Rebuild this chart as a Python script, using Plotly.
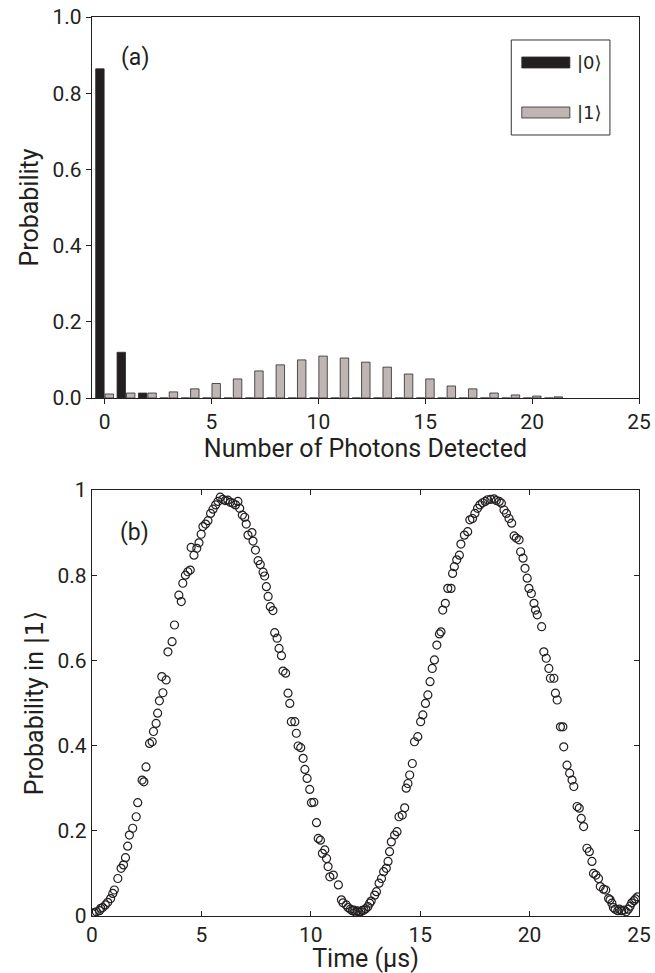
import plotly.graph_objects as go

# ---------------- data: panel (a) ----------------
photons = list(range(0, 22))
p_ket0 = [0.864, 0.120, 0.013] + [0.0] * 19
p_ket1 = [0.0105, 0.013, 0.013, 0.016, 0.024, 0.038, 0.050, 0.071, 0.087, 0.100,
          0.110, 0.105, 0.094, 0.081, 0.063, 0.050, 0.0315, 0.024, 0.013, 0.008,
          0.005, 0.003]

# ---------------- data: panel (b) ----------------
time_us = [0.01, 0.10, 0.20, 0.34, 0.40, 0.49, 0.61, 0.72, 0.85, 0.95, 1.02, 1.18, 1.33, 1.44,
           1.53, 1.63, 1.71, 1.86, 2.02, 2.09, 2.29, 2.37, 2.47, 2.63, 2.75, 2.81, 2.93, 3.00,
           3.08, 3.19, 3.24, 3.39, 3.47, 3.66, 3.77, 3.97, 4.08, 4.15, 4.27, 4.38, 4.49, 4.53,
           4.66, 4.79, 4.89, 4.99, 5.07, 5.19, 5.30, 5.42, 5.53, 5.65, 5.76, 5.86, 5.98, 6.09,
           6.21, 6.32, 6.44, 6.56, 6.67, 6.75, 6.87, 6.98, 7.05, 7.13, 7.31, 7.36, 7.47, 7.59,
           7.69, 7.82, 7.89, 7.97, 8.05, 8.15, 8.27, 8.35, 8.46, 8.55, 8.66, 8.73, 8.85, 8.96,
           9.04, 9.11, 9.27, 9.34, 9.42, 9.54, 9.65, 9.73, 9.83, 9.95, 10.03, 10.14, 10.26, 10.34,
           10.44, 10.53, 10.64, 10.72, 10.79, 10.87, 11.03, 11.26, 11.40, 11.47, 11.62, 11.70,
           11.81, 11.90, 11.97, 12.05, 12.13, 12.20, 12.28, 12.35, 12.43, 12.51, 12.61, 12.69,
           12.76, 12.92, 13.00, 13.12, 13.23, 13.33, 13.45, 13.53, 13.60, 13.68, 13.83, 13.94,
           14.03, 14.18, 14.29, 14.36, 14.44, 14.52, 14.64, 14.74, 14.89, 15.02, 15.12, 15.24,
           15.35, 15.45, 15.55, 15.65, 15.76, 15.88, 15.95, 16.03, 16.15, 16.26, 16.41, 16.48,
           16.56, 16.67, 16.79, 16.86, 17.02, 17.17, 17.27, 17.39, 17.50, 17.62, 17.73, 17.85,
           17.97, 18.08, 18.23, 18.38, 18.48, 18.61, 18.71, 18.83, 18.94, 19.06, 19.18, 19.29,
           19.39, 19.52, 19.59, 19.70, 19.79, 19.89, 19.97, 20.08, 20.20, 20.27, 20.35, 20.55,
           20.65, 20.76, 20.88, 20.95, 21.11, 21.18, 21.26, 21.41, 21.52, 21.56, 21.71, 21.83,
           21.94, 22.02, 22.17, 22.27, 22.36, 22.47, 22.62, 22.73, 22.85, 22.92, 23.03, 23.15,
           23.23, 23.38, 23.48, 23.61, 23.68, 23.76, 23.83, 23.91, 24.03, 24.10, 24.21, 24.32,
           24.41, 24.51, 24.59, 24.67, 24.77, 24.84, 24.94]
prob_ket1 = [0.006, 0.008, 0.010, 0.0125, 0.018, 0.020, 0.026, 0.032, 0.041, 0.053, 0.061, 0.088,
             0.112, 0.120, 0.137, 0.164, 0.190, 0.206, 0.233, 0.266, 0.319, 0.315, 0.350, 0.405,
             0.409, 0.433, 0.452, 0.476, 0.505, 0.562, 0.524, 0.554, 0.620, 0.644, 0.683, 0.753,
             0.738, 0.781, 0.800, 0.808, 0.812, 0.865, 0.847, 0.863, 0.876, 0.896, 0.914, 0.920,
             0.928, 0.945, 0.955, 0.965, 0.973, 0.983, 0.978, 0.975, 0.976, 0.971, 0.969, 0.965,
             0.973, 0.957, 0.941, 0.936, 0.920, 0.894, 0.900, 0.880, 0.859, 0.834, 0.825, 0.807,
             0.798, 0.773, 0.750, 0.726, 0.717, 0.665, 0.652, 0.628, 0.611, 0.575, 0.570, 0.523,
             0.499, 0.456, 0.456, 0.429, 0.399, 0.395, 0.370, 0.344, 0.323, 0.297, 0.266, 0.267,
             0.219, 0.182, 0.178, 0.147, 0.155, 0.135, 0.116, 0.092, 0.096, 0.073, 0.038, 0.031,
             0.026, 0.020, 0.016, 0.0125, 0.014, 0.009, 0.012, 0.009, 0.010, 0.013, 0.014, 0.017,
             0.022, 0.030, 0.035, 0.049, 0.057, 0.077, 0.088, 0.104, 0.112, 0.128, 0.151, 0.174,
             0.190, 0.198, 0.233, 0.237, 0.254, 0.300, 0.311, 0.331, 0.358, 0.409, 0.421, 0.456,
             0.472, 0.499, 0.519, 0.550, 0.581, 0.601, 0.636, 0.662, 0.667, 0.718, 0.734, 0.769,
             0.769, 0.804, 0.820, 0.836, 0.847, 0.873, 0.894, 0.902, 0.930, 0.933, 0.945, 0.957,
             0.965, 0.970, 0.973, 0.977, 0.978, 0.979, 0.975, 0.973, 0.969, 0.953, 0.945, 0.933,
             0.922, 0.892, 0.887, 0.883, 0.855, 0.840, 0.816, 0.793, 0.769, 0.757, 0.734, 0.718,
             0.707, 0.679, 0.620, 0.605, 0.581, 0.558, 0.558, 0.523, 0.507, 0.444, 0.444, 0.397,
             0.354, 0.335, 0.319, 0.304, 0.257, 0.253, 0.229, 0.210, 0.159, 0.151, 0.128, 0.100,
             0.096, 0.088, 0.069, 0.063, 0.061, 0.041, 0.038, 0.030, 0.020, 0.016, 0.0125, 0.016,
             0.0125, 0.014, 0.010, 0.016, 0.023, 0.031, 0.036, 0.040, 0.045]
assert len(time_us) == len(prob_ket1)

xticks_a = [0, 5, 10, 15, 20, 25]
yticks_a = [0.0, 0.2, 0.4, 0.6, 0.8, 1.0]
xticks_b = [0, 5, 10, 15, 20, 25]
yticks_b = [0, 0.2, 0.4, 0.6, 0.8, 1]

BLACK = "#231f20"
GRAY = "#bfb6b4"
EDGE = "#2a2a2a"
FONT = "Roboto"
KETFONT = "DejaVu Sans"
TXT = "#231f20"

fig = go.Figure()
fig.add_trace(go.Bar(x=photons, y=p_ket0, name="|0⟩", marker=dict(color=BLACK, line=dict(color=EDGE, width=0.8)),
                     xaxis="x", yaxis="y", showlegend=False))
fig.add_trace(go.Bar(x=photons, y=p_ket1, name="|1⟩", marker=dict(color=GRAY, line=dict(color=EDGE, width=0.8)),
                     xaxis="x", yaxis="y", showlegend=False))
fig.add_trace(go.Scatter(x=time_us, y=prob_ket1, mode="markers",
                         marker=dict(symbol="circle-open", size=8, color=TXT, line=dict(width=1.2)),
                         xaxis="x2", yaxis="y2", showlegend=False))

axis_common = dict(showgrid=False, zeroline=False, linecolor=TXT, linewidth=1.3, automargin=False,
                   ticklabeloverflow="allow",
                   tickcolor=TXT, tickwidth=1.1, tickfont=dict(family=FONT, size=21, color=TXT),
                   title_font=dict(family=FONT, size=25, color=TXT))

fig.update_layout(
    width=655, height=973,
    margin=dict(l=92, r=16, t=17, b=57),
    paper_bgcolor="white", plot_bgcolor="white",
    barmode="group", bargap=0.12, bargroupgap=0.1,
    xaxis=dict(domain=[0, 1], anchor="y", range=[-0.59, 25], tickvals=xticks_a,
               ticks="outside", ticklen=5, mirror=True,
               title=dict(text="Number of Photons Detected", standoff=0), **axis_common),
    yaxis=dict(domain=[0.5762, 1], anchor="x", range=[0, 1], tickvals=yticks_a, tickformat=".1f",
               ticks="outside", ticklen=5, mirror=True,
               title=dict(text="Probability", standoff=6), **axis_common),
    xaxis2=dict(domain=[0, 1], anchor="y2", range=[0, 25], tickvals=xticks_b,
                ticks="inside", ticklen=5, mirror="ticks",
                title=dict(text="Time (μs)", standoff=0), **axis_common),
    yaxis2=dict(domain=[0, 0.4739], anchor="x2", range=[0, 1], tickvals=yticks_b,
                ticktext=["0", "0.2", "0.4", "0.6", "0.8", "1"],
                ticks="inside", ticklen=5, mirror="ticks",
                title=dict(text="Probability in <span style='font-family:DejaVu Sans'>|1⟩</span>",
                           standoff=6), **axis_common),
)

# panel labels
fig.add_annotation(text="(a)", xref="x domain", yref="y domain", x=0.078, y=0.895,
                   xanchor="center", yanchor="middle",
                   showarrow=False, font=dict(family=FONT, size=23, color=TXT))
fig.add_annotation(text="(b)", xref="x2 domain", yref="y2 domain", x=0.078, y=0.90,
                   xanchor="center", yanchor="middle",
                   showarrow=False, font=dict(family=FONT, size=23, color=TXT))

# manual legend for panel (a)
def xd(px):
    return (px - 92) / 546

def yd(py):
    return (398 - py) / 381

fig.add_shape(type="rect", xref="x domain", yref="y domain", x0=xd(510.5), x1=xd(609),
              y0=yd(135), y1=yd(40), line=dict(color="#333", width=1), fillcolor="white")
fig.add_shape(type="rect", xref="x domain", yref="y domain", x0=xd(521), x1=xd(569),
              y0=yd(68), y1=yd(57), line=dict(color=EDGE, width=0.8), fillcolor=BLACK)
fig.add_shape(type="rect", xref="x domain", yref="y domain", x0=xd(521), x1=xd(569),
              y0=yd(118), y1=yd(107), line=dict(color=EDGE, width=0.8), fillcolor=GRAY)
fig.add_annotation(text="|0⟩", xref="x domain", yref="y domain", x=xd(574), y=yd(62.5),
                   xanchor="left", yanchor="middle", showarrow=False,
                   font=dict(family=KETFONT, size=18, color=TXT))
fig.add_annotation(text="|1⟩", xref="x domain", yref="y domain", x=xd(574), y=yd(112.5),
                   xanchor="left", yanchor="middle", showarrow=False,
                   font=dict(family=KETFONT, size=18, color=TXT))

# remove the browser's default 8px body margin so the figure fills the window exactly
fig.write_html("out.html", config={"displayModeBar": False},
               post_script="document.body.style.margin='0px';")
